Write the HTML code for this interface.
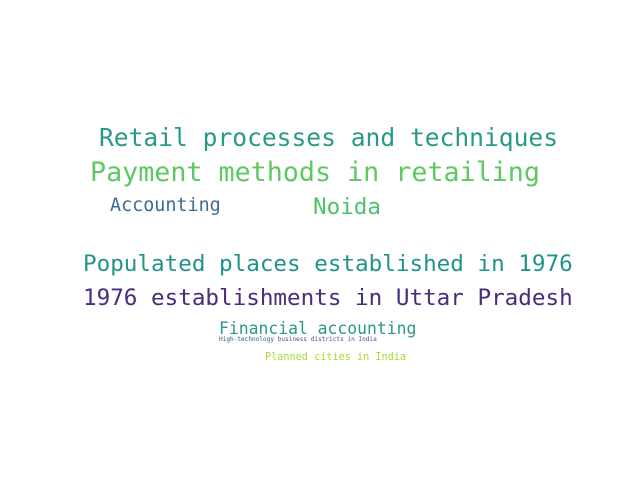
<!DOCTYPE html>
<html><head><meta charset="utf-8"><style>
html,body{margin:0;padding:0;background:#fff}
svg text{font-family:"DejaVu Sans Mono","Liberation Mono",monospace}
</style></head><body>
<svg width="640" height="480" viewBox="0 0 640 480">
<rect width="640" height="480" fill="#fff"/>
<text x="99" y="146" font-size="24.6" fill="#29998a">Retail processes and techniques</text>
<text x="90" y="181" font-size="26.7" fill="#5ec962">Payment methods in retailing</text>
<text x="110" y="211" font-size="18.4" fill="#3e6a96">Accounting</text>
<text x="313" y="214" font-size="22.6" fill="#4ec36b">Noida</text>
<text x="83" y="271" font-size="22.6" fill="#22938b">Populated places established in 1976</text>
<text x="83" y="305" font-size="22.6" fill="#472d7b">1976 establishments in Uttar Pradesh</text>
<text x="219" y="334" font-size="16.4" fill="#2a988a">Financial accounting</text>
<text x="219" y="341" font-size="6.1" fill="#3b528b">High-technology business districts in India</text>
<text x="265" y="360" font-size="10.2" fill="#a8db34">Planned cities in India</text>
</svg>
</body></html>
